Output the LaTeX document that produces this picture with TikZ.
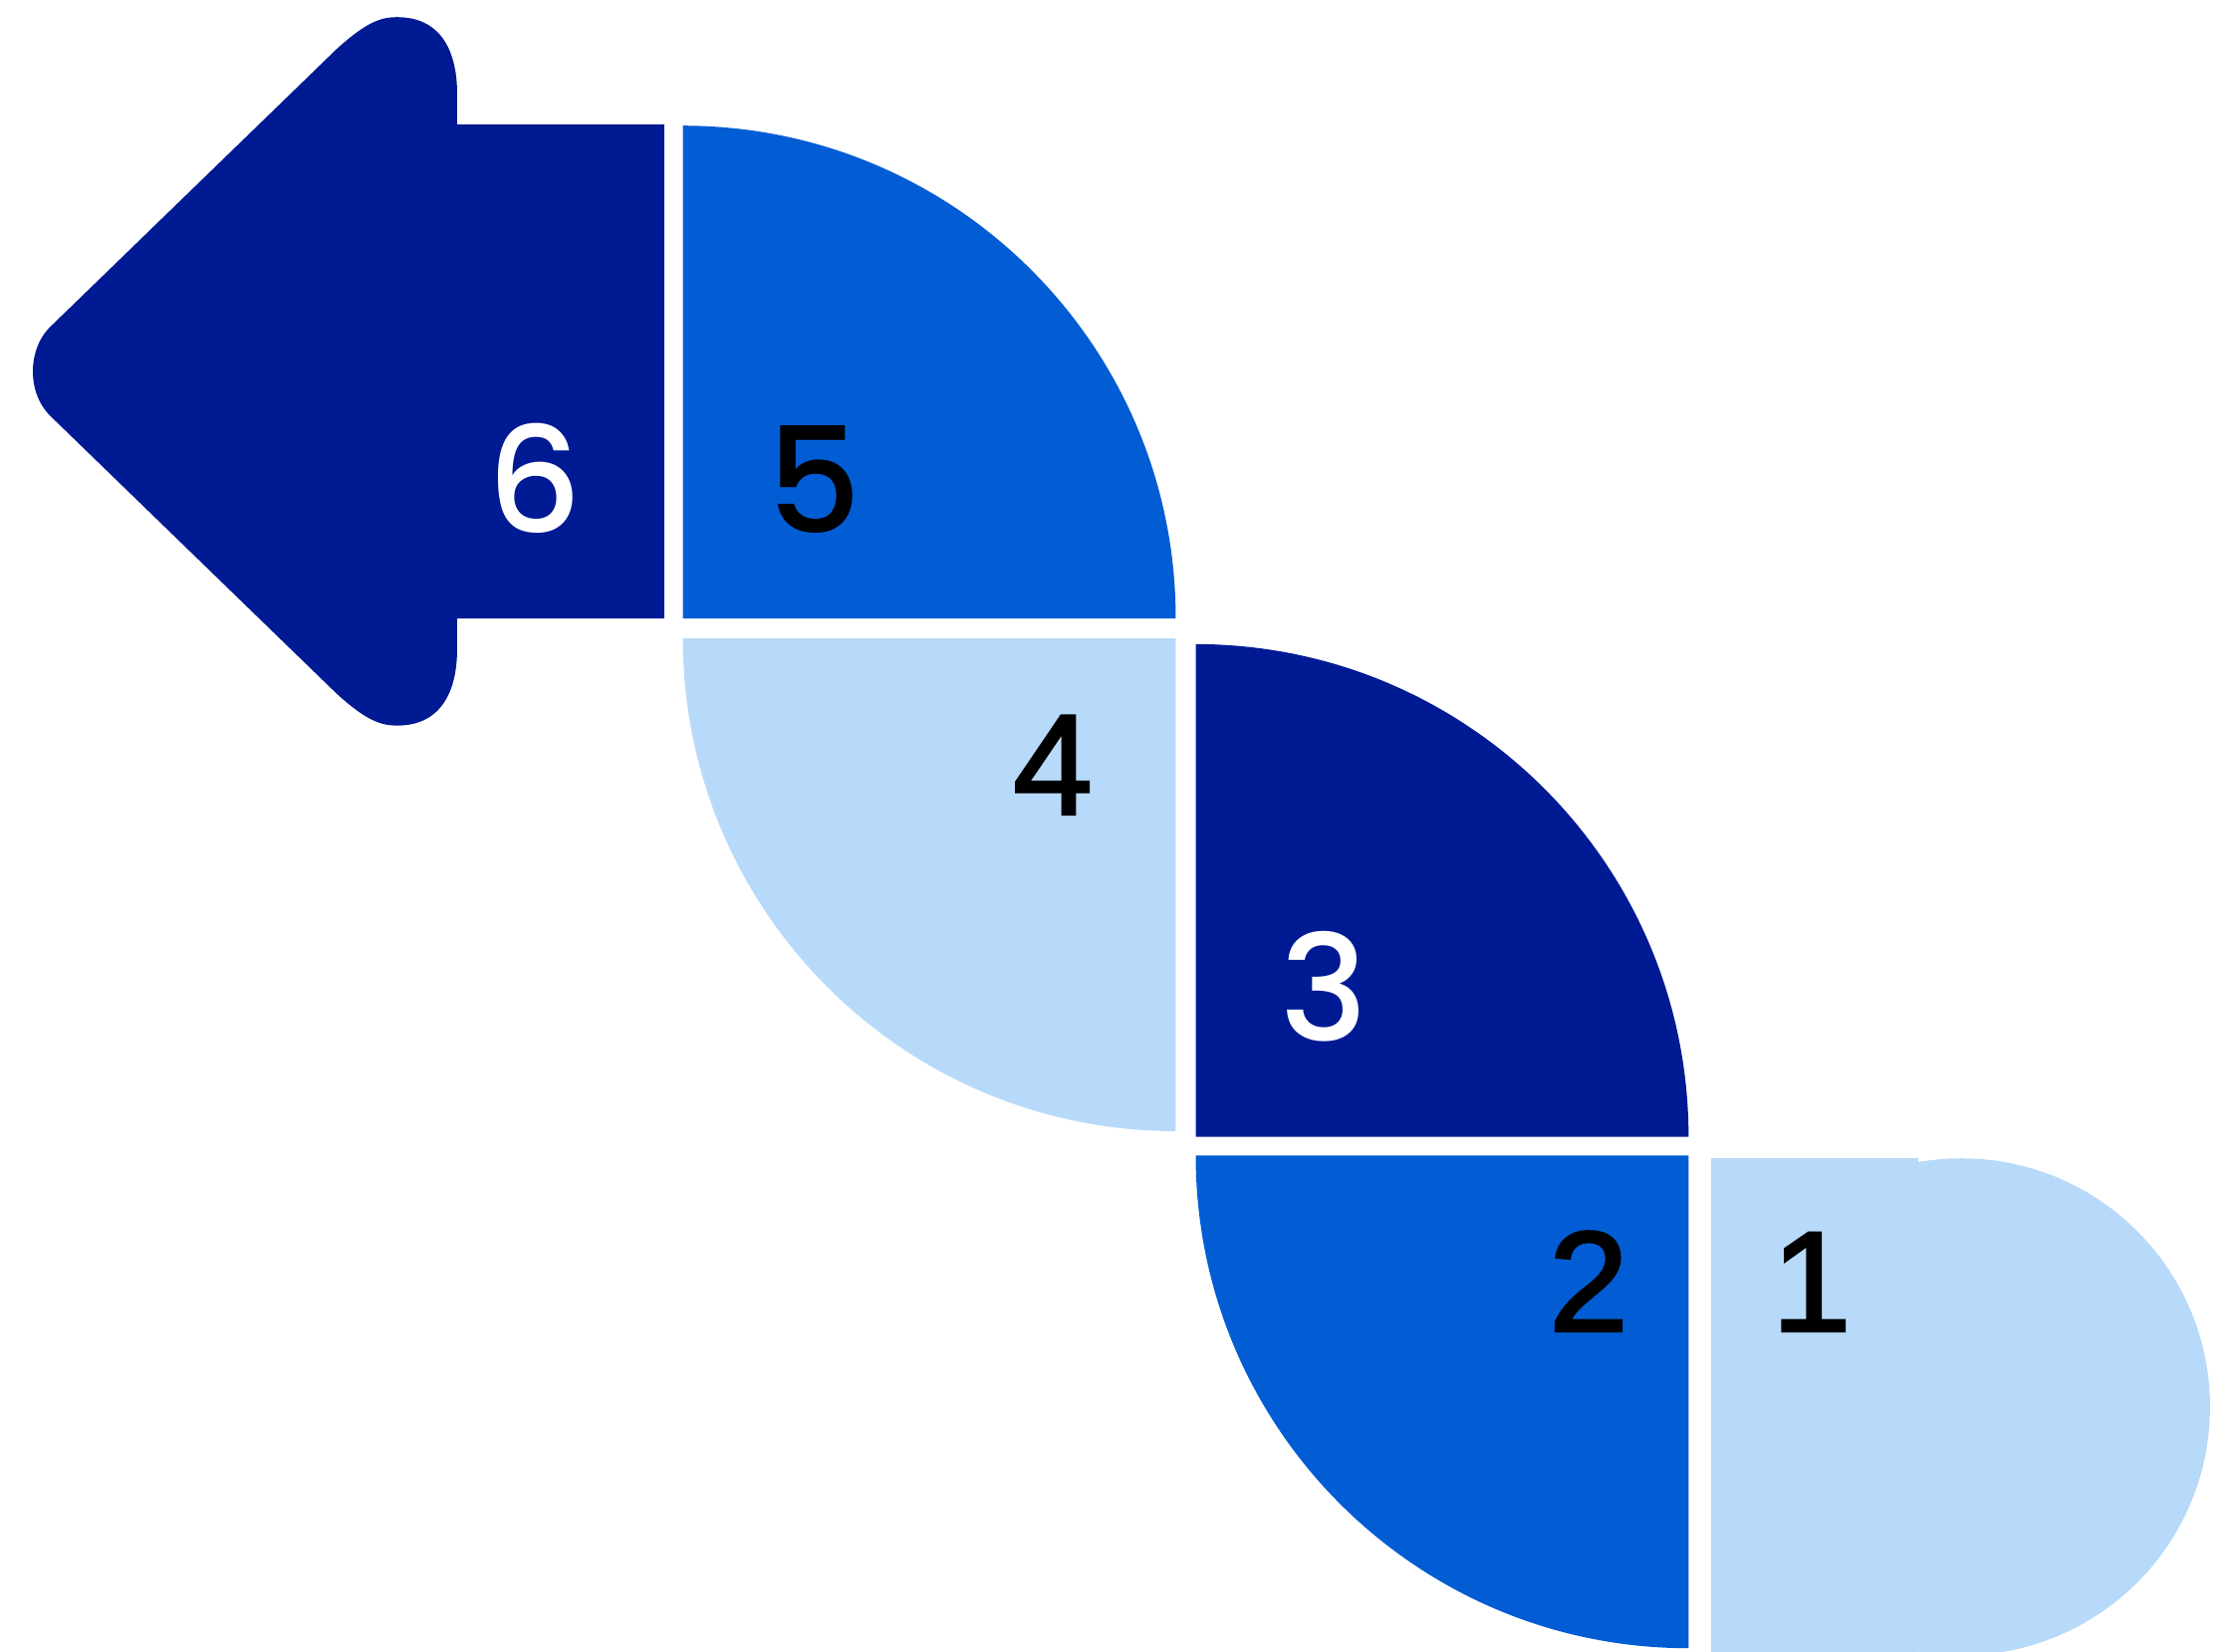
\documentclass[tikz,border=0pt]{standalone}
\usepackage{fontspec}
\setmainfont{Liberation Sans}
\newfontfamily\geonum{Poppins Medium}
\newfontfamily\arialnum{Liberation Sans}[FakeBold=2]
\definecolor{navy}{HTML}{001A94}
\definecolor{midblue}{HTML}{025DD4}
\definecolor{lightblue}{HTML}{B8DAFA}
\begin{document}
\begin{tikzpicture}[x=1pt,y=-1pt,
  lblA/.style={anchor=base,inner sep=0pt,font=\arialnum\fontsize{100}{100}\selectfont},
  lblG/.style={anchor=base,inner sep=0pt,font=\geonum\fontsize{103}{103}\selectfont}]
\useasboundingbox (0,0) rectangle (1568,1156);
\clip (0,0) rectangle (1568,1156);
% step 6: arrow
\fill[navy] (320,87) -- (320,66) .. controls (320,32) and (306,12) .. (278,12)
  .. controls (266,12) and (256,16) .. (236,34) -- (35,229)
  .. controls (19,245) and (19,275) .. (35,291) -- (236,486)
  .. controls (256,504) and (266,508) .. (278,508)
  .. controls (306,508) and (320,488) .. (320,454) -- (320,433) -- (465,433) -- (465,87) -- cycle;
% step 5
\fill[midblue] (478,433) -- (478,88) arc[start angle=-90,end angle=0,radius=345] -- cycle;
% step 4
\fill[lightblue] (823,447) -- (478,447) arc[start angle=180,end angle=90,radius=345] -- cycle;
% step 3
\fill[navy] (837,796) -- (837,451) arc[start angle=-90,end angle=0,radius=345] -- cycle;
% step 2
\fill[midblue] (1182,809) -- (837,809) arc[start angle=180,end angle=90,radius=345] -- cycle;
% step 1
\fill[lightblue] (1198,811) rectangle (1343,1170);
\fill[lightblue] (1373,985) circle[radius=174];
% labels
\node[lblG,text=white] (n6) at (374,373) {6};
\node[lblG,text=black] (n5) at (570,373) {5};
\node[lblA,text=black] (n4) at (737,570) {4};
\node[lblG,text=white] (n3) at (927,729) {3};
\node[lblA,text=black] (n2) at (1112,932) {2};
\node[lblA,text=black] (n1) at (1268,932) {1};
\end{tikzpicture}
\end{document}
